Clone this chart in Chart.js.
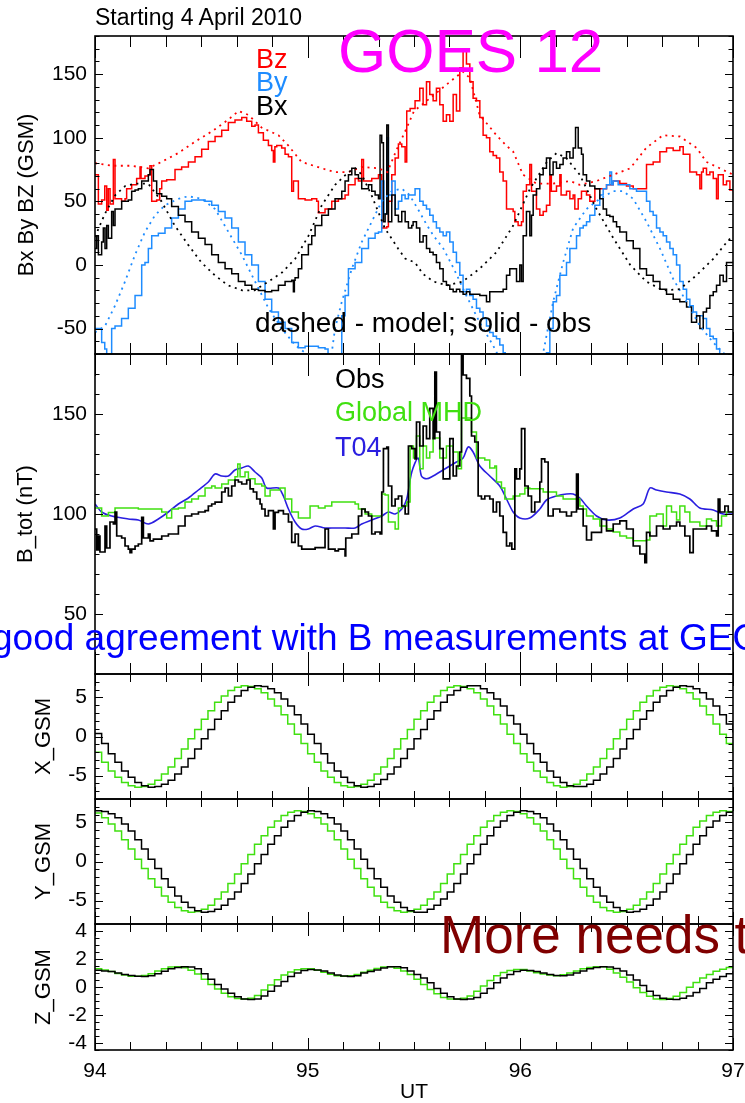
<!DOCTYPE html>
<html>
<head>
<meta charset="utf-8">
<title>GOES 12 field and position, 4 April 2010</title>
<script src="https://cdn.jsdelivr.net/npm/chart.js@4.4.1/dist/chart.umd.min.js"></script>
<style>
    html, body { margin:0; padding:0; background:#fff; }
    #page { position:relative; width:745px; height:1103px; overflow:hidden;
            font-family:"Liberation Sans", Arial, Helvetica, sans-serif; }
    #page canvas { position:absolute; left:0; }
    .note { position:absolute; white-space:nowrap; line-height:1; }
</style>
</head>
<body>
<div id="page">
    <canvas id="p1"></canvas>
    <canvas id="p2"></canvas>
    <canvas id="p3"></canvas>
    <canvas id="p4"></canvas>
    <canvas id="p5"></canvas>
</div>
<script>
// x axis is hours from 00 UT on day 94
const xTickHours  = [0, 24, 48, 72];
const xTickLabels = ['94', '95', '96', '97'];

const bfieldTicks = [-50, 0, 50, 100, 150];
const btotTicks   = [50, 100, 150];
const posTicks    = [-5, 0, 5];
const zTicks      = [-4, -2, 0, 2, 4];

// GSM field components, [hour, nT]
const bzObs = [[0,71],[0.38,48],[0.75,51],[1.1,62],[1.32,43],[1.5,60],[1.7,48],[2.07,83],[2.26,52],[3.0,50],[3.39,52],[3.57,60],
    [4.14,63],[4.7,68],[5.08,77],[5.2,68],[5.64,70],[6.02,71],[6.2,78],[6.4,50],[6.96,51],[7.3,60],[7.53,66],[8.09,67],[9.03,75],
    [9.78,77],[10.54,81],[11.29,85],[12.04,91],[12.79,97],[13.55,101],[14.3,106],[15.05,112],[15.8,114],[16.56,116],[17.12,113],
    [17.69,109],[18.06,110],[18.44,104],[19.0,98],[19.57,94],[19.94,90],[20.13,81],[20.3,93],[20.51,94],[21.07,92],[21.45,87],
    [21.83,85],[22.2,58],[22.4,66],[22.58,66],[22.95,52],[23.71,51],[24.46,52],[25.02,50],[25.21,41],[25.96,44],[26.72,50],
    [27.47,52],[28.22,55],[28.6,63],[29.35,68],[29.73,66],[30.1,83],[30.3,66],[30.48,66],[31.23,68],[31.99,71],[32.36,29],
    [32.93,30],[33.11,50],[33.49,71],[33.87,84],[34.24,95],[34.62,93],[35.0,81],[35.18,121],[35.56,123],[36.12,129],[36.28,129],
    [36.65,139],[37.03,126],[37.41,144],[37.78,134],[38.16,129],[38.53,139],[38.91,126],[39.29,113],[39.66,118],[40.04,113],
    [40.42,134],[40.79,121],[41.17,155],[41.54,168],[41.92,158],[42.3,144],[42.67,131],[43.05,129],[43.43,116],[43.8,102],
    [44.18,100],[44.55,89],[44.93,86],[45.31,84],[45.68,73],[46.06,66],[46.44,44],[47.19,42],[47.38,34],[47.75,31],[48.13,34],
    [48.32,58],[48.69,63],[49.07,79],[49.26,58],[49.82,44],[50.2,39],[50.58,42],[50.95,47],[51.33,71],[51.5,58],[51.7,58],
    [52.08,62],[52.46,71],[52.6,55],[52.83,55],[53.21,58],[53.59,52],[53.96,55],[54.15,44],[54.53,52],[54.9,58],[55.47,55],
    [55.84,50],[56.41,60],[56.97,60],[57.73,63],[58.48,66],[59.23,64],[59.98,62],[60.74,60],[61.49,60],[62.24,79],[62.99,81],
    [63.75,89],[64.5,92],[65.25,90],[66.0,93],[66.38,87],[67.13,73],[67.89,71],[68.26,60],[68.45,73],[68.64,76],[69.01,71],
    [69.39,73],[69.77,68],[70.14,52],[70.33,71],[70.9,63],[71.27,66],[71.65,59],[72,58]];

const byObs = [[0,-50],[0.75,-61],[1.1,-66],[1.32,-76],[1.6,-76],[1.88,-50],[2.26,-48],[3.0,-42],[3.76,-34],[4.52,-24],[5.27,0],
    [5.64,2],[6.02,13],[6.4,23],[7.15,25],[7.9,29],[8.65,37],[9.41,44],[10.16,50],[10.91,51],[11.67,51],[12.42,50],[13.17,47],
    [13.92,42],[14.68,37],[15.43,29],[16.18,18],[16.93,8],[17.69,0],[18.44,-13],[19.19,-27],[19.94,-37],[20.7,-45],[21.45,-50],
    [22.2,-61],[22.95,-65],[23.71,-64],[24.46,-64],[25.21,-65],[25.96,-66],[26.3,-78],[27.6,-78],[27.85,-40],[28.22,-24],
    [28.6,-3],[29.35,2],[30.1,13],[30.86,21],[31.61,25],[31.99,26],[32.36,66],[32.6,40],[32.93,100],[33.11,55],[33.49,66],
    [33.87,44],[34.24,50],[34.62,55],[35.0,52],[35.37,55],[35.75,55],[36.12,60],[36.28,60],[36.65,50],[37.03,47],[37.41,44],
    [37.78,39],[38.16,34],[38.53,29],[38.91,26],[39.29,23],[39.66,26],[40.04,18],[40.42,10],[40.79,2],[41.17,-8],[41.54,-21],
    [41.92,-19],[42.3,-24],[42.67,-27],[43.05,-34],[43.43,-37],[43.8,-42],[44.18,-48],[44.55,-53],[44.93,-56],[45.31,-58],
    [45.68,-63],[46.06,-69],[46.3,-78],[50.8,-78],[50.95,-69],[51.33,-50],[51.7,-29],[52.08,-24],[52.46,-8],[53.21,2],[53.59,13],
    [54.34,23],[54.72,29],[55.1,31],[55.47,34],[55.84,39],[56.41,47],[56.97,55],[57.35,60],[57.73,63],[58.1,73],[58.3,63],
    [58.48,66],[59.04,63],[59.61,63],[60.36,60],[61.11,58],[61.87,58],[62.24,50],[62.62,42],[62.99,39],[63.37,29],[63.75,26],
    [64.12,23],[64.5,18],[64.88,13],[65.25,8],[65.63,0],[66.0,-13],[66.38,-19],[66.76,-27],[67.13,-32],[67.51,-37],[67.89,-40],
    [68.26,-40],[68.64,-42],[69.01,-50],[69.39,-56],[69.77,-58],[70.14,-66],[70.5,-78],[72,-78]];

const bxObs = [[0,13],[0.19,23],[0.38,8],[0.75,18],[0.94,29],[1.13,13],[1.32,31],[1.51,21],[1.88,42],[2.07,31],[2.26,44],[3.01,50],
    [3.76,51],[4.14,58],[4.52,59],[4.89,60],[5.27,66],[5.64,66],[6.02,71],[6.21,75],[6.59,66],[6.96,56],[7.53,54],[8.09,52],
    [8.65,46],[9.41,39],[10.16,34],[10.91,26],[11.67,21],[12.42,16],[13.17,8],[13.92,2],[14.68,-3],[15.43,-7],[16.18,-13],
    [16.93,-16],[17.69,-19],[18.44,-20],[19.19,-21],[19.94,-20],[20.7,-16],[21.45,-13],[22.2,-12],[22.39,-21],[22.5,-12],
    [22.58,-10],[22.95,-3],[23.33,8],[24.08,16],[24.46,23],[24.84,31],[25.59,39],[26.34,44],[27.09,52],[27.85,58],[28.22,66],
    [28.6,71],[28.98,76],[29.35,71],[29.73,68],[30.1,60],[30.86,63],[31.23,58],[31.61,55],[31.99,52],[32.17,102],[32.36,96],
    [32.55,34],[32.74,40],[32.93,110],[33.11,34],[33.49,55],[33.87,39],[34.24,34],[34.62,42],[35.0,34],[35.37,29],[35.75,31],
    [35.9,34],[36.28,29],[36.65,18],[37.03,23],[37.41,13],[37.78,10],[38.16,8],[38.53,2],[38.91,-3],[39.29,-13],[39.66,-16],
    [40.04,-19],[40.42,-21],[40.79,-19],[41.17,-21],[41.54,-23],[41.92,-21],[42.3,-23],[42.67,-23],[43.43,-24],[44.18,-29],
    [44.55,-21],[45.31,-21],[46.06,-19],[46.44,-8],[46.81,-3],[47.19,-3],[47.57,-13],[47.94,0],[48.13,-13],[48.32,23],[48.69,42],
    [49.07,23],[49.26,39],[49.45,55],[49.82,60],[50.2,71],[50.58,76],[50.95,84],[51.33,71],[51.7,81],[52.08,76],[52.46,79],
    [52.83,84],[53.21,89],[53.59,84],[53.96,92],[54.23,108],[54.53,92],[54.9,87],[55.09,71],[55.47,66],[55.84,62],[56.41,60],
    [56.97,52],[57.35,44],[57.73,39],[58.1,38],[58.48,34],[58.86,30],[59.23,26],[59.98,19],[60.74,13],[61.49,-3],[62.24,-8],
    [62.99,-13],[63.75,-19],[64.5,-23],[65.25,-27],[66.0,-29],[66.76,-33],[67.32,-45],[67.89,-40],[68.26,-50],[68.64,-37],
    [69.01,-34],[69.39,-24],[69.77,-21],[70.14,-16],[70.52,-8],[70.9,-13],[71.27,2],[72,2]];

const bzModel = [[0,80],[2,78],[4,78],[6,76],[7.5,81],[9.4,88],[11.3,97],[13.2,105],[15,114],[16.2,121],[17.3,118],[18.8,108],
    [20.7,102],[21.8,94],[23.3,81],[25.6,76],[27.1,73],[28.6,73],[30.1,77],[32,76],[33,73],[34,90],[35,105],[36,121],[37.8,131],
    [39.7,142],[41.5,152],[42.3,147],[43.4,118],[44.6,108],[45.3,102],[46.4,94],[47.2,89],[48.3,71],[49.8,64],[51.7,64],
    [53.6,66],[54.7,63],[56.6,66],[58.5,71],[60.4,76],[62.2,92],[64.1,102],[66,101],[67.9,92],[69,81],[70.5,76],[72,71]];

const byModel = [[0,-53],[1.13,-48],[2.26,-32],[3.39,-13],[4.52,8],[5.64,26],[6.77,39],[7.9,47],[9.41,52],[10.54,54],[12.04,52],
    [13.55,44],[15.05,26],[16.56,8],[18.06,-13],[19.57,-34],[21.07,-50],[22.58,-63],[24.08,-71],[25.5,-80],[26.5,-80],[27.09,-50],
    [27.85,-29],[28.98,-3],[30.1,18],[31.23,34],[32.36,50],[33.49,58],[34.62,60],[35.5,55],[36.6,42],[37.4,32],[38.2,23],
    [39.3,13],[40.5,-3],[41.9,-24],[43.4,-45],[44.9,-63],[46,-78],[50.2,-78],[50.58,-69],[51.7,-29],[52.83,2],[53.96,29],
    [55.47,44],[56.97,52],[58.48,58],[59.6,58],[60.74,52],[62.24,34],[63.75,13],[65.25,-11],[66.76,-29],[68.26,-48],[69.77,-61],
    [70.9,-69],[72,-76]];

const bxModel = [[0,22],[1.1,40],[2.3,55],[3.4,62],[4.5,64],[6,64],[7.5,50],[9,31],[10.5,16],[12,2],[13.5,-8],[15,-16],[16.6,-20],
    [18,-20],[19.6,-13],[21.1,-6],[22.6,5],[24.1,23],[25.6,47],[27.1,63],[28.6,73],[29.4,76],[30.1,71],[31.2,55],[32.7,29],
    [34.2,13],[35,5],[36.1,2],[37,-7],[38.2,-13],[39.7,-16],[41.5,-13],[43.4,-3],[45.3,10],[47.2,31],[49.1,60],[51,81],[52.1,88],
    [53.2,84],[54.7,71],[56.6,44],[58.5,21],[60.4,0],[62.2,-13],[64.1,-20],[66,-19],[67.9,-8],[69.8,5],[71.3,18],[72,23]];

// total field, [hour, nT]
const btotObs = [[0,92.5],[0.19,82],[0.38,89],[0.56,81],[0.94,81],[1.13,94],[1.32,83],[1.69,96],[2.07,95],[2.26,101],[2.45,89],
    [3.01,88],[3.39,84],[3.76,82.4],[3.95,80.7],[4.14,82.4],[4.52,84],[4.89,85],[5.27,98.3],[5.46,88],[6.02,90],[6.21,86.6],
    [6.59,87.4],[7.15,87.4],[7.53,89],[8.28,90],[9.03,90],[9.41,94],[10.16,99],[10.91,100],[11.67,101],[12.42,101.7],[12.79,104],
    [13.17,105],[13.55,105.9],[14.3,111],[14.68,113],[15.05,109],[15.43,114],[15.8,117],[16.18,116],[16.56,115],[17.12,117],
    [17.5,112.6],[17.87,111],[18.25,107.5],[18.63,105],[18.82,102.5],[19.19,99],[19.57,101.7],[20.13,92.5],[20.32,100.8],
    [20.7,101.7],[21.26,100],[21.83,96],[22.2,85.8],[22.58,90],[22.95,84],[23.33,82.4],[24.08,82.4],[24.84,83.2],[25.59,83.2],
    [25.96,92.5],[26.34,82.4],[27.09,81.6],[27.47,82.4],[28.22,79],[28.3,88],[28.98,90],[29.73,99],[30.1,102.5],[30.48,101],
    [30.86,99],[31.23,90],[31.61,91],[32.17,90],[32.36,111],[32.55,132.7],[32.93,133.5],[33.11,114],[33.49,104],[33.87,107.5],
    [34.24,109],[34.62,104],[35.0,100],[35.37,134],[35.75,132.7],[36.12,127.6],[36.28,146],[36.65,134],[37.03,144],[37.41,137.7],
    [37.78,152.8],[38.16,137.7],[38.35,171],[38.53,141],[38.91,132.7],[39.29,117.6],[39.66,117.6],[40.04,137.7],[40.42,119],
    [40.79,124],[41.17,131],[41.36,179.6],[41.54,169.5],[41.92,167.8],[42.3,159],[42.49,139],[42.86,136],[43.24,109],
    [43.61,107.5],[43.99,109],[44.55,107.5],[44.93,101],[45.31,106],[45.68,99],[46.06,90.8],[46.44,84],[46.81,85.5],[47.04,82.4],
    [47.38,122.6],[47.57,117.6],[47.94,122.6],[48.13,142.7],[48.51,114],[48.88,109],[49.26,101],[49.63,106],[50.2,116],
    [50.39,127.6],[50.76,126],[51.14,99],[51.7,102.5],[52.46,101],[53.21,99],[53.77,101],[54.34,120],[54.53,102.5],[55.09,94],
    [55.47,87],[56.03,90.8],[56.6,90.8],[57.16,97.5],[57.73,91.6],[58.48,95],[59.23,96.6],[59.98,92.5],[60.74,84],[61.49,80],
    [62.05,75.7],[62.24,90.8],[62.62,89],[63.37,94],[64.12,92.5],[64.88,94],[65.63,96],[66.0,94],[66.57,89],[67.13,80.7],
    [67.51,92.5],[68.26,92.5],[69.01,94],[69.58,91.6],[70.14,89],[70.33,107.5],[70.52,101],[71.08,104],[71.46,101],[72,101]];

const btotMhd = [[0,103],[0.75,99],[1.51,100.8],[2.26,103],[3.76,103],[4.89,102.5],[6.02,102.5],[7.53,101],[8.09,98],[8.65,102.5],
    [9.41,103],[10.16,106],[10.91,107.5],[11.67,109],[12.42,113],[13.17,114],[13.55,113],[14.3,115],[15.05,117],[15.8,118.6],
    [16.11,125],[16.37,118.6],[16.93,121],[17.31,117.6],[18.06,115],[18.82,114],[19.19,109],[19.76,112],[20.32,112],[20.88,113],
    [21.45,107.5],[22.2,101],[22.95,98],[23.71,98],[24.27,104],[25.21,103],[25.96,104],[26.72,106],[27.85,106],[28.6,106],
    [29.35,105],[29.73,102.5],[30.48,100],[31.23,99],[31.99,99],[32.36,110],[32.74,109.5],[33.11,96],[33.87,92.5],[34.24,103],
    [34.62,104],[35.18,106],[35.56,134],[35.94,128],[36.28,139],[36.65,122.6],[37.03,134],[37.41,128],[37.78,131],[38.16,138],
    [38.91,128],[39.66,134],[40.42,131],[40.98,122.6],[41.36,148],[41.92,148],[42.49,141],[43.05,128],[43.99,127],[44.55,123],
    [45.12,124],[45.31,116],[45.87,113],[46.25,107.5],[47.19,109],[47.94,110],[48.51,113],[49.07,112.6],[50.01,112.6],[50.58,111],
    [51.33,111],[52.08,109],[52.83,107.5],[53.77,107.5],[54.72,104],[55.09,102.5],[55.47,99],[56.22,97.5],[56.97,94],[57.73,92.5],
    [58.48,91],[59.23,89],[59.98,88],[60.74,86.6],[61.49,86.6],[62.24,87],[62.62,99],[63.37,100],[64.12,94],[64.5,104],[65.06,101],
    [65.63,97],[66.0,104],[66.57,101],[67.13,96],[68.26,94],[69.01,97.5],[69.58,96.6],[70.14,94],[70.71,99],[71.27,101],[72,101.2]];

const btotT04 = [[0,105],[0.75,101],[1.88,99],[3.76,97.5],[4.89,97],[6.02,95],[7.15,97.5],[8.28,101],[9.41,105],[10.54,108],
    [11.67,112],[12.79,116],[13.55,120],[14.3,119],[15.05,119],[15.8,122],[16.56,123],[17.31,124],[18.06,121],[18.82,118],
    [19.38,113],[20.7,113],[21.26,109],[21.83,102.5],[22.58,96],[23.33,92.5],[24.08,92.5],[24.84,94],[25.96,93],[27.09,93],
    [28.22,93],[29.35,93],[30.1,95],[31.23,97],[32.36,99],[33.11,101],[33.87,100],[34.62,102.5],[35.18,107.5],[35.75,121],
    [36.46,128],[36.84,119],[37.41,117.6],[38.16,119],[38.91,121],[39.66,123],[40.79,126],[41.54,128],[42.11,133.5],[42.67,131],
    [43.43,124],[44.55,119],[45.68,114],[46.44,107.5],[47.19,101],[47.94,98],[49.07,98],[50.2,102.5],[50.95,107],[52.08,109],
    [53.21,110],[53.96,110],[54.72,108],[55.47,104],[56.6,99],[57.73,97],[59.23,98],[60.74,102.5],[61.86,105],[62.62,113],
    [63.37,112],[64.5,111],[66.0,110],[67.13,107.5],[68.26,103],[69.77,102],[70.9,100],[72,100]];

// spacecraft position in Re, one sample every 45 minutes
const posHours = [0,0.75,1.5,2.25,3,3.75,4.5,5.25,6,6.75,7.5,8.25,9,9.75,10.5,11.25,12,12.75,13.5,14.25,15,15.75,16.5,17.25,
    18,18.75,19.5,20.25,21,21.75,22.5,23.25,24,24.75,25.5,26.25,27,27.75,28.5,29.25,30,30.75,31.5,32.25,33,33.75,34.5,35.25,
    36,36.75,37.5,38.25,39,39.75,40.5,41.25,42,42.75,43.5,44.25,45,45.75,46.5,47.25,48,48.75,49.5,50.25,51,51.75,52.5,53.25,
    54,54.75,55.5,56.25,57,57.75,58.5,59.25,60,60.75,61.5,62.25,63,63.75,64.5,65.25,66,66.75,67.5,68.25,69,69.75,70.5,71.25,72];

const xGsmObs = [0.4,-0.9,-2.2,-3.3,-4.4,-5.2,-5.9,-6.3,-6.5,-6.4,-6.1,-5.6,-4.8,-3.9,-2.8,-1.6,-0.3,0.9,2.2,3.3,4.4,5.2,5.9,6.3,
    6.5,6.4,6.1,5.6,4.8,3.9,2.8,1.6,
    0.3,-0.9,-2.2,-3.4,-4.4,-5.2,-5.9,-6.3,-6.5,-6.4,-6.1,-5.5,-4.8,-3.9,-2.8,-1.6,-0.3,0.9,2.2,3.3,4.4,5.3,5.9,6.3,
    6.5,6.5,6.1,5.6,4.8,3.9,2.7,1.6,
    0.3,-0.9,-2.2,-3.3,-4.4,-5.2,-5.9,-6.3,-6.4,-6.4,-6.1,-5.6,-4.8,-3.9,-2.8,-1.6,-0.3,0.9,2.2,3.3,4.4,5.2,5.9,6.3,
    6.5,6.4,6.1,5.6,4.8,3.9,2.8,1.6,0.5];
const xGsmModel = [-2.0,-3.3,-4.4,-5.2,-5.9,-6.3,-6.5,-6.4,-6.1,-5.6,-4.8,-3.9,-2.8,-1.6,-0.3,0.9,2.2,3.3,4.4,5.2,5.9,6.3,6.5,6.4,
    6.1,5.6,4.8,3.9,2.8,1.6,0.3,-0.9,
    -2.2,-3.3,-4.4,-5.2,-5.9,-6.3,-6.5,-6.4,-6.1,-5.6,-4.8,-3.9,-2.8,-1.6,-0.3,0.9,2.2,3.3,4.4,5.2,5.9,6.3,6.5,6.4,
    6.1,5.6,4.8,3.9,2.8,1.6,0.3,-0.9,
    -2.2,-3.3,-4.4,-5.2,-5.9,-6.3,-6.5,-6.4,-6.1,-5.6,-4.8,-3.9,-2.8,-1.6,-0.3,0.9,2.2,3.3,4.4,5.2,5.9,6.3,6.5,6.4,
    6.1,5.6,4.8,3.9,2.8,1.6,0.3,-0.9,-1.9];

const yGsmObs = [6.5,6.4,6.1,5.6,4.8,3.9,2.8,1.6,0.3,-0.9,-2.2,-3.3,-4.4,-5.2,-5.9,-6.3,-6.5,-6.4,-6.1,-5.6,-4.8,-3.9,-2.8,-1.6,
    -0.3,0.9,2.2,3.3,4.4,5.2,5.9,6.3,
    6.5,6.4,6.1,5.6,4.8,3.9,2.8,1.6,0.3,-0.9,-2.2,-3.3,-4.4,-5.2,-5.9,-6.3,-6.5,-6.5,-6.1,-5.6,-4.8,-3.9,-2.8,-1.6,
    -0.3,0.9,2.2,3.3,4.4,5.2,5.9,6.3,
    6.5,6.4,6.1,5.6,4.8,3.9,2.8,1.6,0.3,-0.9,-2.2,-3.3,-4.4,-5.2,-5.9,-6.3,-6.5,-6.4,-6.1,-5.6,-4.8,-3.9,-2.8,-1.6,
    -0.3,0.9,2.2,3.3,4.4,5.2,5.9,6.3,6.5];
const yGsmModel = [6.2,5.6,4.8,3.9,2.8,1.6,0.3,-0.9,-2.2,-3.3,-4.4,-5.2,-5.9,-6.3,-6.5,-6.4,-6.1,-5.6,-4.8,-3.9,-2.8,-1.6,-0.3,0.9,
    2.2,3.3,4.4,5.2,5.9,6.3,6.5,6.4,
    6.1,5.6,4.8,3.9,2.8,1.6,0.3,-0.9,-2.2,-3.3,-4.4,-5.2,-5.9,-6.3,-6.5,-6.4,-6.1,-5.6,-4.8,-3.9,-2.8,-1.6,-0.3,0.9,
    2.2,3.3,4.4,5.2,5.9,6.3,6.5,6.4,
    6.1,5.6,4.8,3.9,2.8,1.6,0.3,-0.9,-2.2,-3.3,-4.4,-5.2,-5.9,-6.3,-6.5,-6.4,-6.1,-5.6,-4.8,-3.9,-2.8,-1.6,-0.3,0.9,
    2.2,3.3,4.4,5.2,5.9,6.3,6.5,6.4,6.2];

const zGsmObs = [1.2,1.15,1.1,1.0,0.9,0.82,0.77,0.75,0.8,0.95,1.12,1.3,1.4,1.45,1.42,1.3,0.95,0.55,0.18,-0.15,-0.45,-0.7,-0.85,-0.9,
    -0.85,-0.65,-0.3,0.08,0.4,0.75,1.0,1.18,
    1.25,1.22,1.15,1.0,0.85,0.78,0.75,0.8,1.0,1.1,1.22,1.35,1.45,1.45,1.38,1.15,0.9,0.65,0.3,-0.1,-0.45,-0.7,-0.85,-0.9,
    -0.85,-0.75,-0.45,-0.1,0.3,0.65,0.9,1.1,
    1.2,1.17,1.1,1.0,0.9,0.82,0.8,0.85,1.0,1.15,1.3,1.4,1.45,1.42,1.32,1.15,0.85,0.5,0.1,-0.3,-0.6,-0.8,-0.88,-0.9,
    -0.8,-0.65,-0.4,-0.1,0.3,0.55,0.75,0.95,1.12];
const zGsmModel = [1.3,1.22,1.1,0.97,0.85,0.77,0.77,0.83,0.95,1.14,1.3,1.42,1.45,1.38,1.2,0.93,0.55,0.17,-0.15,-0.44,-0.7,-0.82,-0.86,-0.8,
    -0.6,-0.22,0.15,0.52,0.85,1.08,1.23,1.3,
    1.3,1.19,1.05,0.91,0.8,0.76,0.8,0.9,1.05,1.2,1.33,1.42,1.45,1.34,1.15,0.9,0.55,0.17,-0.18,-0.49,-0.75,-0.86,-0.88,-0.8,
    -0.65,-0.31,0.08,0.46,0.8,1.03,1.18,1.25,
    1.25,1.14,1.02,0.92,0.85,0.81,0.87,1.0,1.15,1.3,1.4,1.45,1.45,1.26,1.0,0.69,0.35,-0.06,-0.4,-0.66,-0.85,-0.89,-0.83,-0.66,
    -0.4,-0.02,0.32,0.64,0.9,1.13,1.27,1.39,1.45];

const RED = '#ff0000', SKY = '#1e8cff', GREEN = '#40e010', VIOLET = '#2a1ee0', BLACK = '#000000';
const FONT = '"Liberation Sans", Arial, Helvetica, sans-serif';

Chart.defaults.font.family = FONT;
Chart.defaults.color = BLACK;

const pts = pairs => pairs.map(([x, y]) => ({ x, y }));
const sampled = vals => vals.map((y, i) => ({ x: posHours[i], y }));

function line(data, color, extra) {
    return Object.assign({ data, borderColor: color, borderWidth: 1.5, pointRadius: 0, fill: false, tension: 0 }, extra || {});
}
const dotted = { borderDash: [2, 4.5], borderWidth: 1.8 };
const steps  = { stepped: true };

// box round the plot plus inward ticks on all four sides
const frameTicks = {
    id: 'frameTicks',
    afterDraw(chart, args, o) {
        const { ctx, chartArea: a } = chart;
        const x = chart.scales.x, y = chart.scales.y;
        ctx.save();
        ctx.strokeStyle = BLACK;
        ctx.lineWidth = 1;
        ctx.beginPath();
        for (let h = 0; h <= 72; h += 4) {
            const px = Math.round(x.getPixelForValue(h)) + 0.5;
            const len = h % 24 === 0 ? o.xMajor : o.xMinor;
            ctx.moveTo(px, a.top);    ctx.lineTo(px, a.top + len);
            ctx.moveTo(px, a.bottom); ctx.lineTo(px, a.bottom - len);
        }
        const n = Math.round((y.max - y.min) / o.yStep);
        for (let i = 0; i <= n; i++) {
            const v = y.min + i * o.yStep;
            const major = o.yMajor.some(m => Math.abs(m - v) < 1e-6);
            const py = Math.round(y.getPixelForValue(v)) + 0.5;
            const len = major ? 8 : 4.5;
            ctx.moveTo(a.left, py);  ctx.lineTo(a.left + len, py);
            ctx.moveTo(a.right, py); ctx.lineTo(a.right - len, py);
        }
        ctx.stroke();
        ctx.lineWidth = 1.6;
        ctx.strokeRect(a.left, a.top, a.right - a.left, a.bottom - a.top);
        ctx.restore();
    }
};

const panels = [
    { id: 'p1', top: 36, bottom: 354, min: -70, max: 180, ticks: bfieldTicks, step: 10,
      title: 'Bx By BZ (GSM)', titlePad: 16, xMajor: 22, xMinor: 11,
      datasets: [
          line(pts(bxModel), BLACK, dotted), line(pts(byModel), SKY, dotted), line(pts(bzModel), RED, dotted),
          line(pts(bxObs), BLACK, steps), line(pts(byObs), SKY, steps), line(pts(bzObs), RED, steps)
      ] },
    { id: 'p2', top: 354, bottom: 674, min: 20, max: 180, ticks: btotTicks, step: 10,
      title: 'B_tot (nT)', titlePad: 15, xMajor: 22, xMinor: 11,
      datasets: [
          line(pts(btotObs), BLACK, { stepped: true, borderWidth: 1.7 }),
          line(pts(btotMhd), GREEN, steps),
          line(pts(btotT04), VIOLET, { borderWidth: 1.6, tension: 0.3 })
      ] },
    { id: 'p3', top: 674, bottom: 799, min: -8, max: 8, ticks: posTicks, step: 1,
      title: 'X_GSM', titlePad: 33, xMajor: 12, xMinor: 8,
      datasets: [line(sampled(xGsmObs), BLACK, steps), line(sampled(xGsmModel), GREEN, steps)] },
    { id: 'p4', top: 799, bottom: 924, min: -8, max: 8, ticks: posTicks, step: 1,
      title: 'Y_GSM', titlePad: 33, xMajor: 12, xMinor: 8,
      datasets: [line(sampled(yGsmObs), BLACK, steps), line(sampled(yGsmModel), GREEN, steps)] },
    { id: 'p5', top: 924, bottom: 1050, min: -4.5, max: 4.5, ticks: zTicks, step: 0.5,
      title: 'Z_GSM', titlePad: 33, xMajor: 12, xMinor: 8, showX: true,
      datasets: [line(sampled(zGsmObs), BLACK, steps), line(sampled(zGsmModel), GREEN, steps)] }
];

function makePanel(p) {
    const padTop = Math.min(p.top, 20);
    const padBottom = 20;
    const xAxisHeight = 53;
    const canvasTop = p.top - padTop;
    const height = p.showX ? 1103 - canvasTop : p.bottom + padBottom - canvasTop;
    const cv = document.getElementById(p.id);
    cv.width = 745;
    cv.height = height;
    cv.style.top = canvasTop + 'px';

    new Chart(cv, {
        type: 'line',
        data: { datasets: p.datasets },
        options: {
            responsive: false,
            animation: false,
            events: [],
            layout: { padding: { top: padTop, bottom: p.showX ? 0 : padBottom, left: 0, right: 12 } },
            plugins: {
                legend: { display: false },
                tooltip: { enabled: false },
                frameTicks: { xMajor: p.xMajor, xMinor: p.xMinor, yStep: p.step, yMajor: p.ticks }
            },
            scales: {
                x: {
                    type: 'linear', min: 0, max: 72,
                    display: !!p.showX,
                    grid: { display: false, drawTicks: false },
                    border: { display: false },
                    afterBuildTicks: axis => { axis.ticks = xTickHours.map(v => ({ value: v })); },
                    afterFit: axis => {
                        if (!p.showX) return;
                        axis.height = xAxisHeight; axis.paddingLeft = 0; axis.paddingRight = 0;
                    },
                    ticks: {
                        autoSkip: false, maxRotation: 0, padding: 9, color: BLACK,
                        font: { size: 21 },
                        callback: (v, i) => xTickLabels[i]
                    },
                    title: { display: true, text: 'UT', color: BLACK, font: { size: 21, lineHeight: 1 },
                             padding: { top: 0, bottom: 0 } }
                },
                y: {
                    type: 'linear', min: p.min, max: p.max,
                    grid: { display: false, drawTicks: false },
                    border: { display: false },
                    afterBuildTicks: axis => { axis.ticks = p.ticks.map(v => ({ value: v })); },
                    afterFit: axis => { axis.width = 95; axis.paddingTop = 0; axis.paddingBottom = 0; },
                    ticks: { autoSkip: false, padding: 8, color: BLACK, font: { size: 21 } },
                    title: { display: true, text: p.title, color: BLACK, font: { size: 22, lineHeight: 1 },
                             padding: { top: p.titlePad, bottom: 0 } }
                }
            }
        },
        plugins: [frameTicks]
    });
}

panels.forEach(makePanel);

// captions laid over the plots; base is the text baseline in page pixels
const notes = [
    { text: 'Starting 4 April 2010', x: 95, base: 25, size: 23, color: BLACK },
    { text: 'GOES 12', x: 338, base: 72, size: 62, color: '#ff00ff' },
    { text: 'Bz', x: 256, base: 69, size: 27, color: RED },
    { text: 'By', x: 256, base: 92, size: 27, color: SKY },
    { text: 'Bx', x: 256, base: 116, size: 27, color: BLACK },
    { text: 'dashed - model; solid - obs', x: 255, base: 333, size: 28, color: BLACK },
    { text: 'Obs', x: 335, base: 389, size: 27, color: BLACK },
    { text: 'Global MHD', x: 335, base: 422, size: 27, color: GREEN },
    { text: 'T04', x: 335, base: 457, size: 27, color: VIOLET },
    { text: 'good agreement with B measurements at GEO', x: -8, base: 650, size: 37, color: '#0000ff' },
    { text: 'More needs t', x: 440, base: 953, size: 53, color: '#800000' }
];

const page = document.getElementById('page');
notes.forEach(n => {
    const d = document.createElement('div');
    d.className = 'note';
    d.textContent = n.text;
    d.style.cssText = `left:${n.x}px;top:${(n.base - 0.847 * n.size).toFixed(1)}px;font-size:${n.size}px;color:${n.color};`;
    page.appendChild(d);
});
</script>
</body>
</html>
